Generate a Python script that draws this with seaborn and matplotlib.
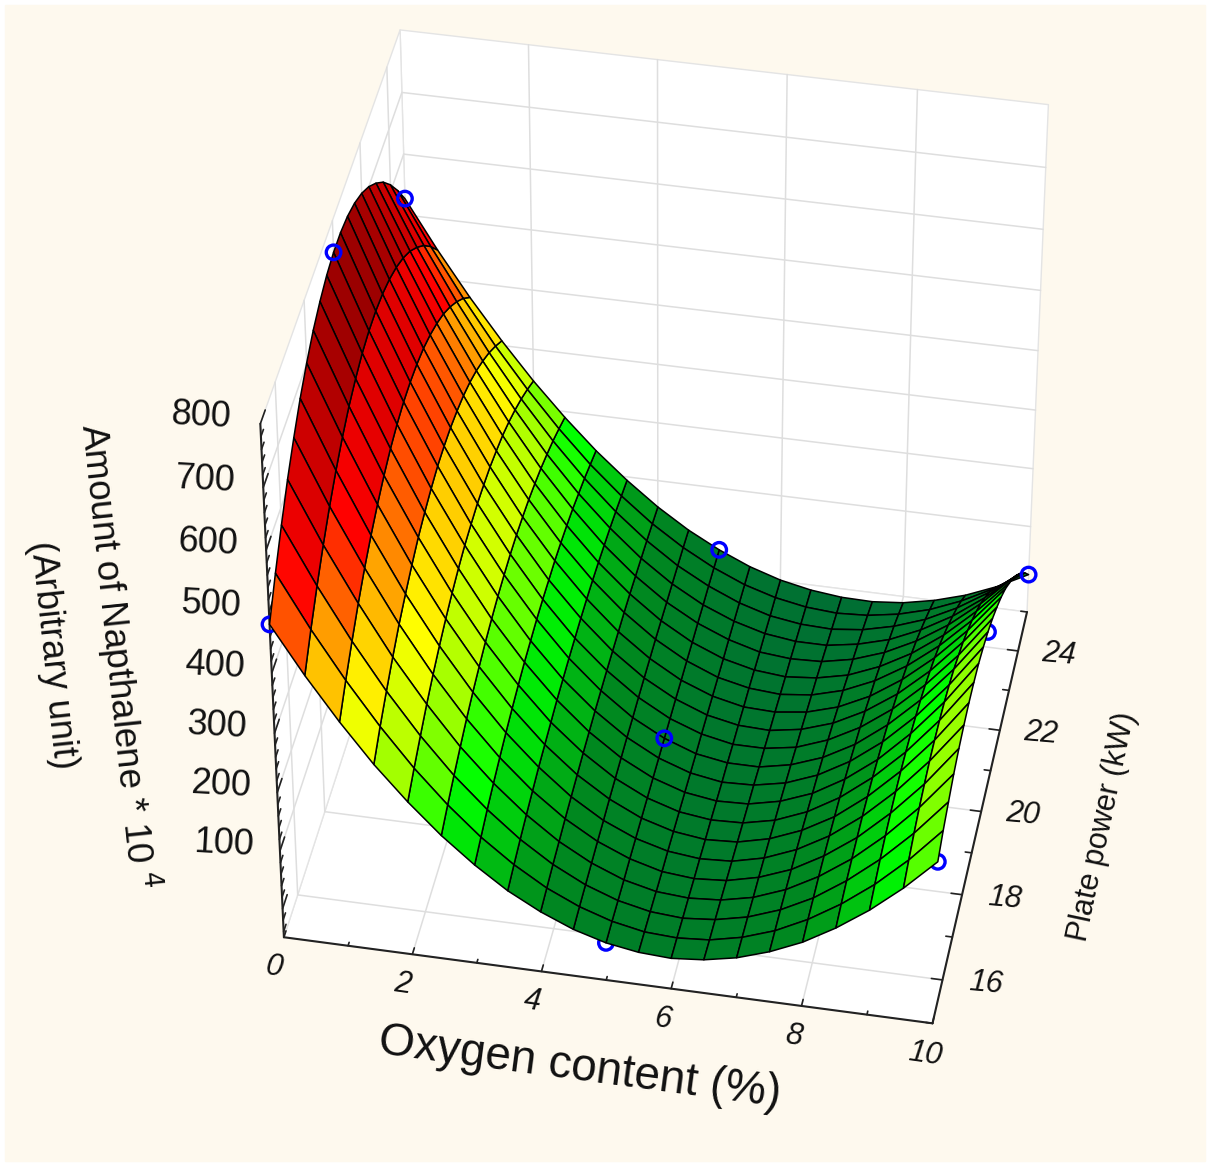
import numpy as np
import matplotlib
matplotlib.use('Agg')
import matplotlib.pyplot as plt
import seaborn as sns
from matplotlib.patches import Rectangle
from mpl_toolkits.mplot3d.art3d import Poly3DCollection
from mpl_toolkits.mplot3d import proj3d

oxygen = [0, 0.5, 1, 1.5, 2, 2.5, 3, 3.5, 4, 4.5, 5, 5.5, 6, 6.5, 7, 7.5, 8, 8.5, 9, 9.5, 10]
power = [15, 15.5, 16, 16.5, 17, 17.5, 18, 18.5, 19, 19.5, 20, 20.5, 21, 21.5, 22, 22.5, 23, 23.5, 24, 24.5, 25]

# one row per plate power value
naphthalene = [
    [480, 403, 333, 269, 213, 163, 120, 83, 54, 31, 15, 6, 3, 8, 19, 37, 61, 93, 131, 176, 228],
    [529, 444, 367, 297, 234, 179, 131, 91, 58, 33, 15, 4, 1, 5, 17, 36, 63, 97, 138, 187, 244],
    [573, 481, 397, 321, 253, 193, 142, 98, 62, 34, 14, 2, -2, 3, 15, 35, 63, 100, 144, 196, 256],
    [613, 514, 425, 343, 271, 206, 151, 104, 65, 35, 13, 0, -4, 0, 12, 33, 63, 101, 148, 203, 267],
    [647, 543, 449, 363, 286, 218, 159, 109, 68, 36, 13, -2, -7, -3, 10, 31, 62, 101, 150, 207, 274],
    [677, 568, 469, 379, 299, 228, 166, 114, 70, 36, 12, -3, -9, -6, 7, 29, 60, 101, 151, 210, 278],
    [701, 589, 486, 393, 310, 236, 172, 117, 72, 37, 11, -5, -12, -9, 4, 26, 57, 99, 150, 210, 280],
    [721, 606, 500, 405, 319, 243, 177, 120, 74, 37, 10, -7, -14, -12, 0, 22, 54, 96, 147, 208, 279],
    [735, 618, 511, 413, 326, 248, 181, 123, 75, 37, 9, -9, -17, -15, -3, 18, 50, 91, 143, 204, 276],
    [745, 627, 518, 419, 331, 252, 183, 124, 76, 37, 8, -11, -20, -18, -7, 14, 45, 86, 137, 198, 269],
    [750, 631, 522, 423, 333, 254, 185, 125, 76, 36, 7, -13, -22, -22, -11, 9, 39, 80, 130, 190, 260],
    [750, 631, 522, 423, 334, 255, 185, 125, 76, 36, 6, -14, -25, -25, -16, 4, 33, 72, 121, 179, 248],
    [745, 627, 519, 421, 332, 254, 184, 125, 75, 35, 5, -16, -27, -29, -20, -2, 26, 63, 110, 167, 233],
    [735, 619, 513, 416, 329, 251, 183, 124, 74, 34, 3, -18, -30, -32, -25, -9, 17, 53, 98, 152, 216],
    [720, 607, 503, 409, 323, 247, 180, 122, 73, 33, 2, -20, -32, -36, -30, -15, 9, 42, 84, 135, 196],
    [700, 591, 490, 399, 316, 241, 176, 119, 71, 31, 0, -22, -35, -40, -35, -23, -1, 29, 68, 116, 172],
    [675, 571, 474, 386, 306, 234, 171, 115, 68, 29, -1, -23, -38, -43, -41, -30, -11, 16, 51, 95, 147],
    [646, 546, 454, 370, 294, 225, 164, 111, 65, 27, -3, -25, -40, -47, -47, -38, -23, 1, 32, 71, 118],
    [611, 518, 431, 352, 280, 215, 157, 106, 62, 25, -4, -27, -43, -51, -53, -47, -34, -15, 12, 46, 87],
    [571, 485, 405, 331, 264, 203, 148, 100, 58, 23, -6, -29, -45, -55, -59, -56, -47, -32, -10, 18, 53],
    [527, 448, 375, 308, 246, 190, 139, 94, 54, 20, -8, -31, -48, -59, -65, -66, -61, -50, -34, -12, 16],
]

# measured runs, some sit behind the surface
back_x = [0, 5, 10, 10]
back_y = [15, 15, 15, 20]
back_z = [480, 15, 228, 260]
front_x = [0, 0, 5, 5, 10]
front_y = [20, 25, 20, 25, 25]
front_z = [750, 527, 7, -8, 16]

x_ticks = [0, 2, 4, 6, 8, 10]
y_ticks = [16, 18, 20, 22, 24]
z_ticks = [100, 200, 300, 400, 500, 600, 700, 800]

sns.set_theme(style='white')
plt.rcParams['font.family'] = ['Liberation Sans', 'DejaVu Sans']
plt.rcParams['text.color'] = '#111111'

fig = plt.figure(figsize=(12.1, 11.66), dpi=100)
fig.patch.set_facecolor('white')
fig.add_artist(Rectangle((0.004, 0.004), 0.992, 0.992, transform=fig.transFigure, color='#fef9ee', zorder=-5))

ax = fig.add_axes([0.036, 0.038, 1.0, 1.0], projection='3d')
ax.set_facecolor('none')
ax.patch.set_alpha(0)
ax.set_axis_off()
ax.computed_zorder = False
ax.set_proj_type('persp', focal_length=1.2)
ax.view_init(elev=41, azim=-79.3, roll=0)
ax.set_xlim(0, 10)
ax.set_ylim(15, 25)
ax.set_zlim(-50, 800)
ax.set_box_aspect((660, 625, 676), zoom=0.943)

# panes
zmin, zmax = -50, 800
floor = [(0, 15, zmin), (10, 15, zmin), (10, 25, zmin), (0, 25, zmin)]
back = [(0, 25, zmin), (10, 25, zmin), (10, 25, zmax), (0, 25, zmax)]
left = [(0, 15, zmin), (0, 25, zmin), (0, 25, zmax), (0, 15, zmax)]
ax.add_collection3d(Poly3DCollection([floor, back, left], facecolors='white', edgecolors='#e4e4e4', linewidths=1, zorder=1))

grid = dict(color='#dedede', lw=1.1, zorder=2)
for v in x_ticks[1:-1]:
    ax.plot([v, v], [15, 25], [zmin, zmin], **grid)
    ax.plot([v, v], [25, 25], [zmin, zmax], **grid)
for v in y_ticks:
    ax.plot([0, 10], [v, v], [zmin, zmin], **grid)
    ax.plot([0, 0], [v, v], [zmin, zmax], **grid)
for v in z_ticks[:-1]:
    ax.plot([0, 10], [25, 25], [v, v], **grid)
    ax.plot([0, 0], [15, 25], [v, v], **grid)

# axes and ticks
line = dict(color='#222222', lw=1.5, zorder=3)
ax.plot([0, 10], [15, 15], [zmin, zmin], **line)
ax.plot([10, 10], [15, 25], [zmin, zmin], **line)
ax.plot([0, 0], [15, 15], [zmin, zmax], **line)
tick = dict(color='#222222', lw=1.2, zorder=3)
for v in range(0, 11):
    ax.plot([v, v], [15, 15 + (0.15 if v % 2 == 0 else 0.08)], [zmin, zmin], **tick)
for v in range(15, 26):
    ax.plot([10, 10 - (0.17 if v % 2 == 0 else 0.1)], [v, v], [zmin, zmin], **tick)
for v in range(-40, 801, 20):
    ax.plot([0, 0], [15, 15 + (0.33 if v % 100 == 0 else 0.17)], [v, v], **tick)

# surface
cmap = sns.blend_palette(['#006f33', '#008a1e', '#00ff00', '#8cff00', '#ffff00', '#ffa000', '#ff0000', '#c80000', '#760000'],
                         n_colors=48, as_cmap=True)
X, Y = np.meshgrid(oxygen, power)
Z = np.array(naphthalene, dtype=float)
cell = (Z[:-1, :-1] + Z[1:, :-1] + Z[:-1, 1:] + Z[1:, 1:]) / 4
colors = cmap(np.interp(cell, [-60, 60, 170, 235, 330, 420, 510, 620, 750], np.linspace(0, 1, 9)))

ax.scatter(back_x, back_y, back_z, s=110, facecolors='none', edgecolors='#0000ff', linewidths=2.4, depthshade=False, zorder=4)
ax.plot_surface(X, Y, Z, facecolors=colors, rstride=1, cstride=1, edgecolor='black', linewidth=1.1, shade=False, antialiased=True, zorder=5)
ax.scatter(front_x, front_y, front_z, s=110, facecolors='none', edgecolors='#0000ff', linewidths=2.4, depthshade=False, zorder=6)

# tick labels, placed where the 3d axes project them
fig.canvas.draw()


def label_at(x, y, z, s, **kw):
    a, b, _ = proj3d.proj_transform(x, y, z, ax.get_proj())
    px = ax.transData.transform((a, b))
    fx, fy = fig.transFigure.inverted().transform(px)
    fig.text(fx, fy, s, ha='center', va='center', **kw)


for v in x_ticks:
    label_at(v, 14.3, zmin, str(v), fontsize=22, style='italic', rotation=-8)
for v in y_ticks:
    label_at(10.65, v + 0.05, zmin, str(v), fontsize=22, style='italic', rotation=-5)
for v in z_ticks:
    label_at(-0.87, 15, v, str(v), fontsize=26, rotation=-3)

W, H = 1210.0, 1166.0
fig.text(580 / W, 1 - 1068 / H, 'Oxygen content (%)', fontsize=33, rotation=-7.6, ha='center', va='center')
fig.text(1103 / W, 1 - 827 / H, 'Plate power (kW)', fontsize=22, rotation=78, ha='center', va='center')
fig.text(118 / W, 1 - 656 / H, 'Amount of Napthalene * 10$^{\\ 4}$', fontsize=26.5, rotation=-84, ha='center', va='center')
fig.text(52 / W, 1 - 655 / H, '(Arbitrary unit)', fontsize=26, rotation=-84, ha='center', va='center')

fig.savefig('out.png', dpi=100)
